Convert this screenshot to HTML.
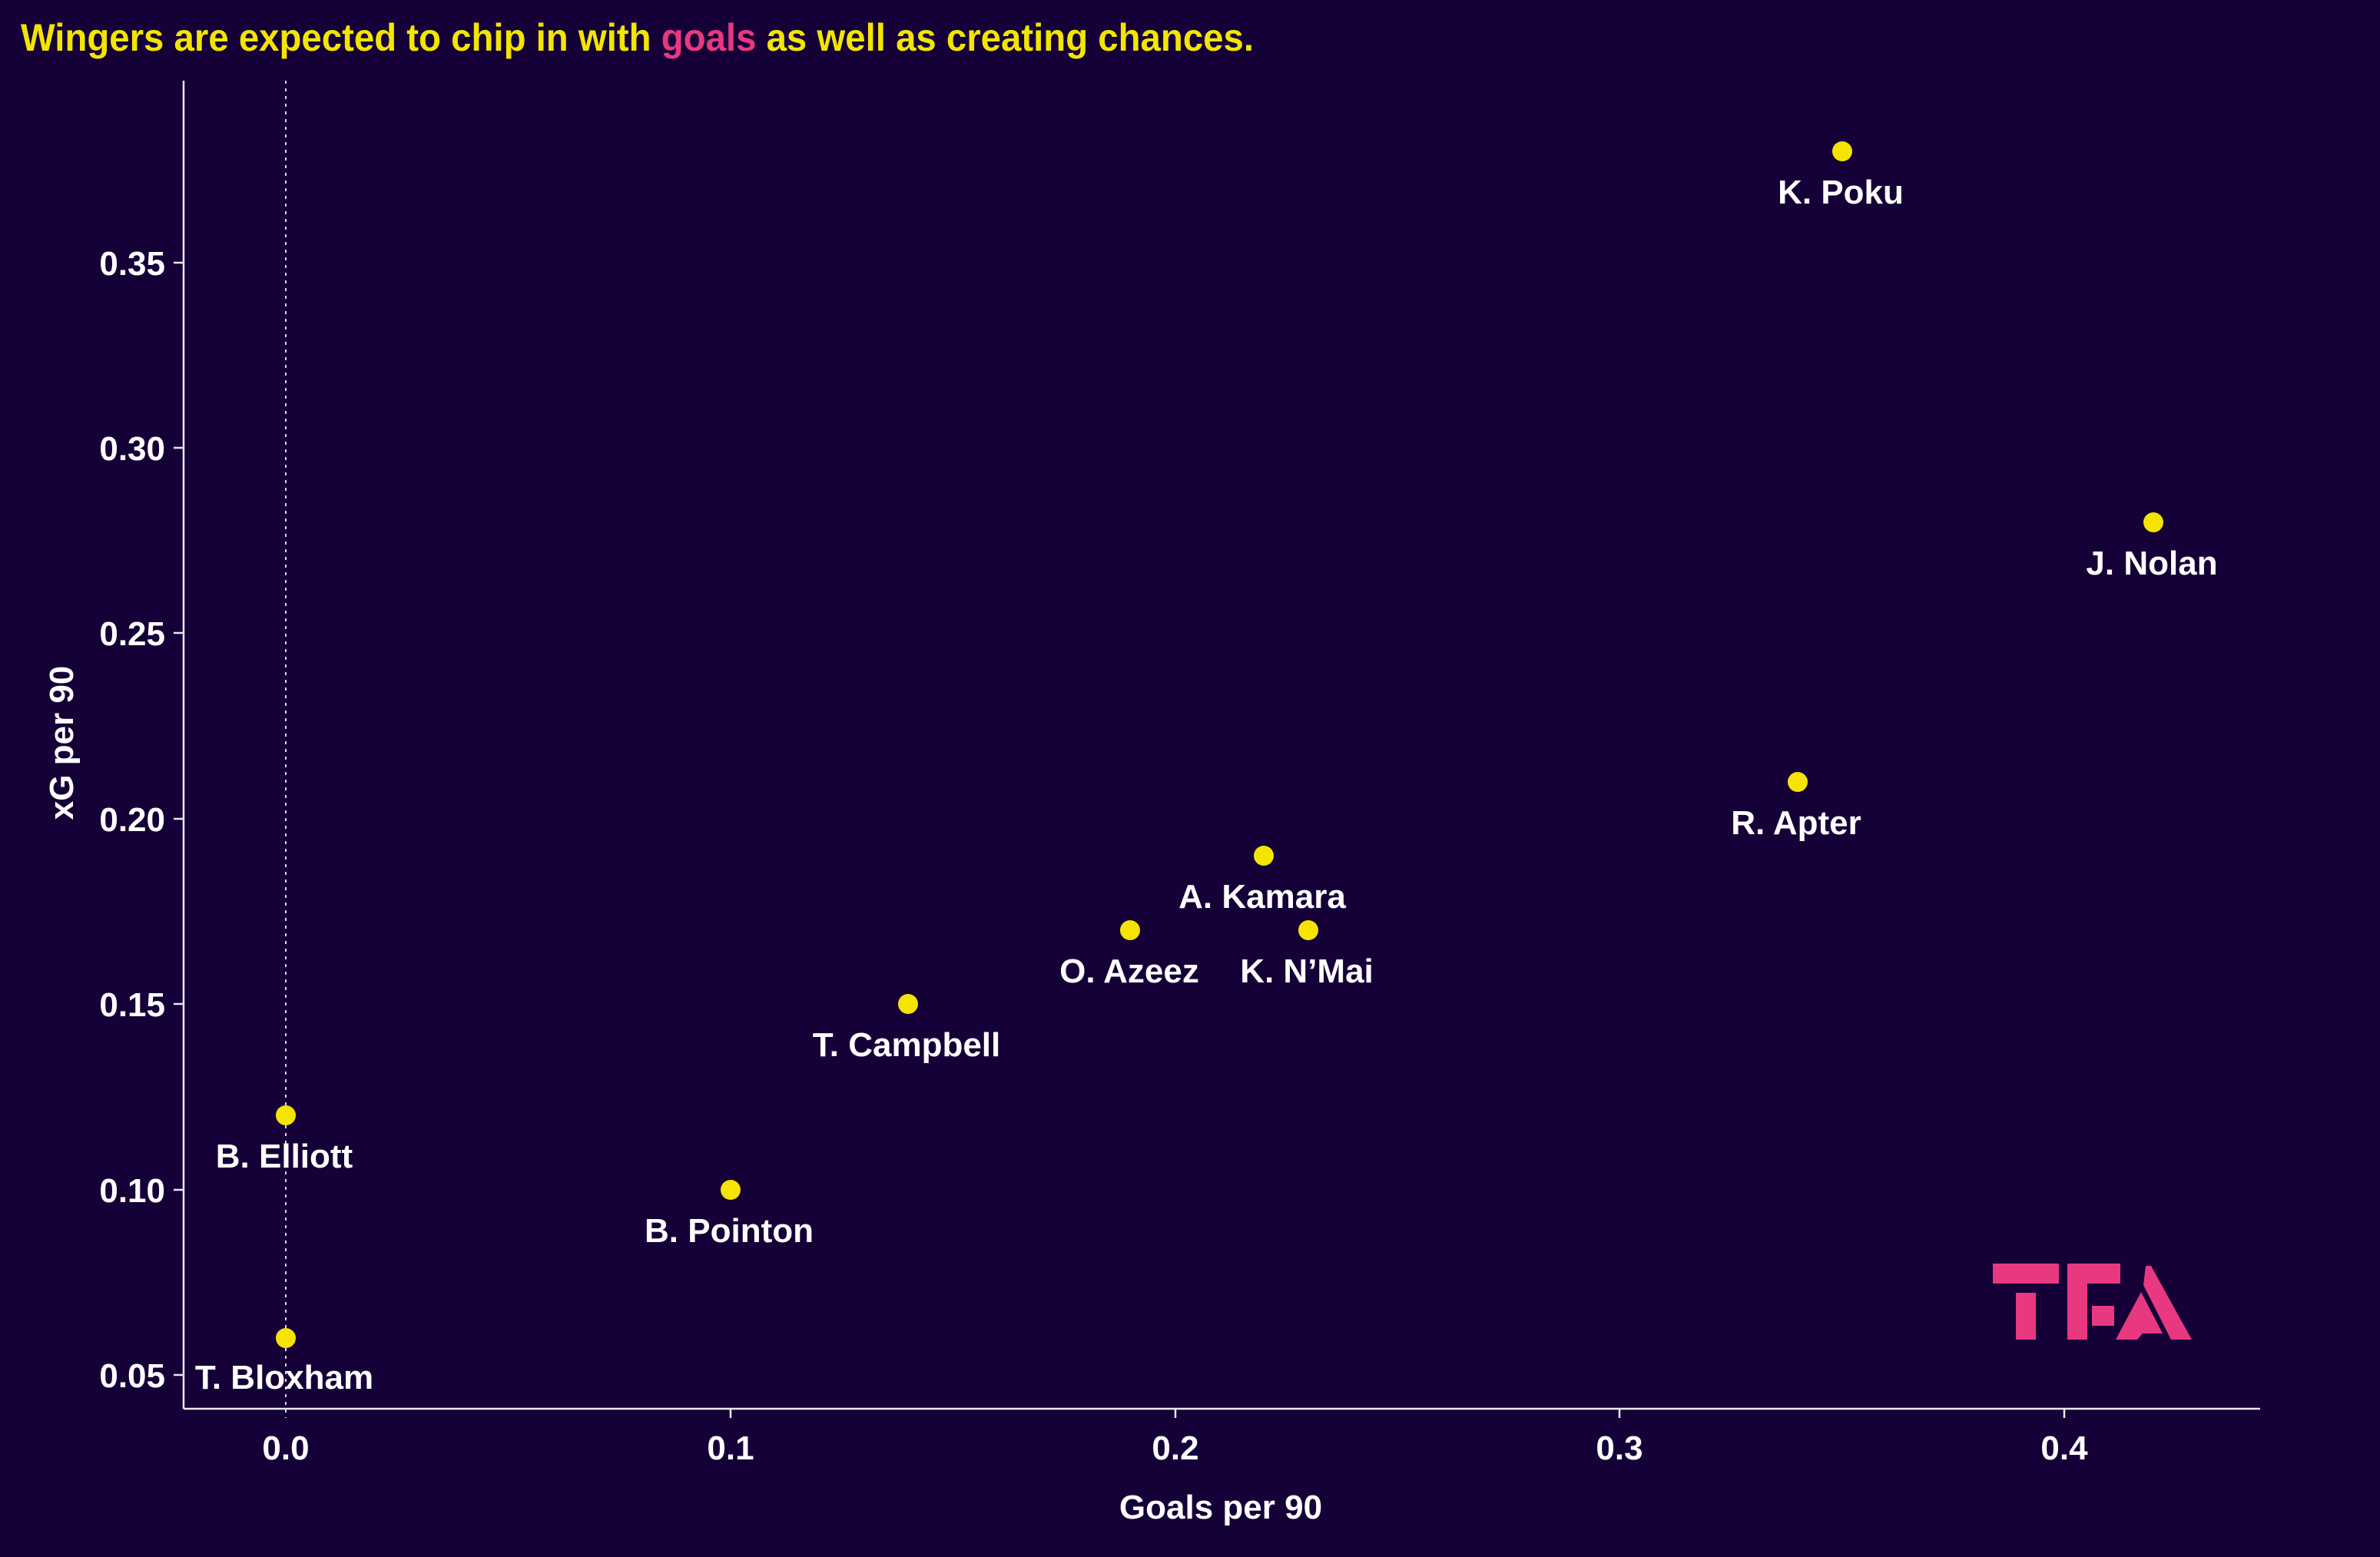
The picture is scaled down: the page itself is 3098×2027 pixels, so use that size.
<!DOCTYPE html>
<html><head><meta charset="utf-8"><style>
html,body{margin:0;padding:0;background:#150038;}
svg{display:block;}
text{font-family:"Liberation Sans",sans-serif;font-weight:bold;}
</style></head><body>
<svg width="3098" height="2027" viewBox="0 0 3098 2027" xmlns="http://www.w3.org/2000/svg">
<rect width="3098" height="2027" fill="#150038"/>
<text x="27" y="66" font-size="50" fill="#f2e600" textLength="1605" lengthAdjust="spacingAndGlyphs">Wingers are expected to chip in with <tspan fill="#e8387f">goals</tspan> as well as creating chances.</text>
<!-- axes -->
<line x1="239" y1="105" x2="239" y2="1834" stroke="#e8e8ee" stroke-width="2.5"/>
<line x1="239" y1="1834" x2="2942" y2="1834" stroke="#e8e8ee" stroke-width="2.5"/>
<line x1="372" y1="105" x2="372" y2="1846" stroke="#d8d8e0" stroke-width="2" stroke-dasharray="4,6"/>
<g stroke="#e8e8ee" stroke-width="2.5">
<line x1="226" y1="1790" x2="239" y2="1790"/>
<line x1="226" y1="1549" x2="239" y2="1549"/>
<line x1="226" y1="1307" x2="239" y2="1307"/>
<line x1="226" y1="1066" x2="239" y2="1066"/>
<line x1="226" y1="824" x2="239" y2="824"/>
<line x1="226" y1="583" x2="239" y2="583"/>
<line x1="226" y1="342" x2="239" y2="342"/>
<line x1="951" y1="1834" x2="951" y2="1846"/>
<line x1="1530" y1="1834" x2="1530" y2="1846"/>
<line x1="2108" y1="1834" x2="2108" y2="1846"/>
<line x1="2687" y1="1834" x2="2687" y2="1846"/>
</g>
<g font-size="44" fill="#ffffff" text-anchor="end">
<text x="215" y="1806">0.05</text>
<text x="215" y="1565">0.10</text>
<text x="215" y="1323">0.15</text>
<text x="215" y="1082">0.20</text>
<text x="215" y="840">0.25</text>
<text x="215" y="599">0.30</text>
<text x="215" y="358">0.35</text>
</g>
<g font-size="44" fill="#ffffff" text-anchor="middle">
<text x="372" y="1900">0.0</text>
<text x="951" y="1900">0.1</text>
<text x="1530" y="1900">0.2</text>
<text x="2108" y="1900">0.3</text>
<text x="2687" y="1900">0.4</text>
<text x="1589" y="1977">Goals per 90</text>
<text transform="translate(95,967) rotate(-90)" x="0" y="0">xG per 90</text>
</g>
<!-- points -->
<g fill="#f5e400">
<circle cx="2398" cy="197" r="13"/>
<circle cx="2803" cy="680" r="13"/>
<circle cx="2340" cy="1018" r="13"/>
<circle cx="1645" cy="1114" r="13"/>
<circle cx="1471" cy="1211" r="13"/>
<circle cx="1703" cy="1211" r="13"/>
<circle cx="1182" cy="1307" r="13"/>
<circle cx="372" cy="1452" r="13"/>
<circle cx="951" cy="1549" r="13"/>
<circle cx="372" cy="1742" r="13"/>
</g>
<g font-size="44" fill="#ffffff" text-anchor="middle">
<text x="2396" y="265">K. Poku</text>
<text x="2801" y="748">J. Nolan</text>
<text x="2338" y="1086">R. Apter</text>
<text x="1643" y="1182">A. Kamara</text>
<text x="1470" y="1279">O. Azeez</text>
<text x="1701" y="1279">K. N’Mai</text>
<text x="1180" y="1375">T. Campbell</text>
<text x="370" y="1520">B. Elliott</text>
<text x="949" y="1617">B. Pointon</text>
<text x="370" y="1808">T. Bloxham</text>
</g>
<!-- TFA logo -->
<g fill="#e8387f">
<polygon points="2594,1645 2680,1645 2680,1671 2594,1671"/>
<polygon points="2624,1683 2650,1683 2650,1744 2624,1744"/>
<polygon points="2691,1645 2760,1645 2760,1671 2717,1671 2717,1744 2691,1744"/>
<polygon points="2723,1700 2752,1700 2752,1726 2723,1726"/>
<polygon points="2793,1648 2800,1648 2853,1744 2826,1744 2790,1673"/>
<polygon points="2787,1682 2815,1736 2789,1736 2782,1744 2754,1744"/>
</g>
</svg>
</body></html>
